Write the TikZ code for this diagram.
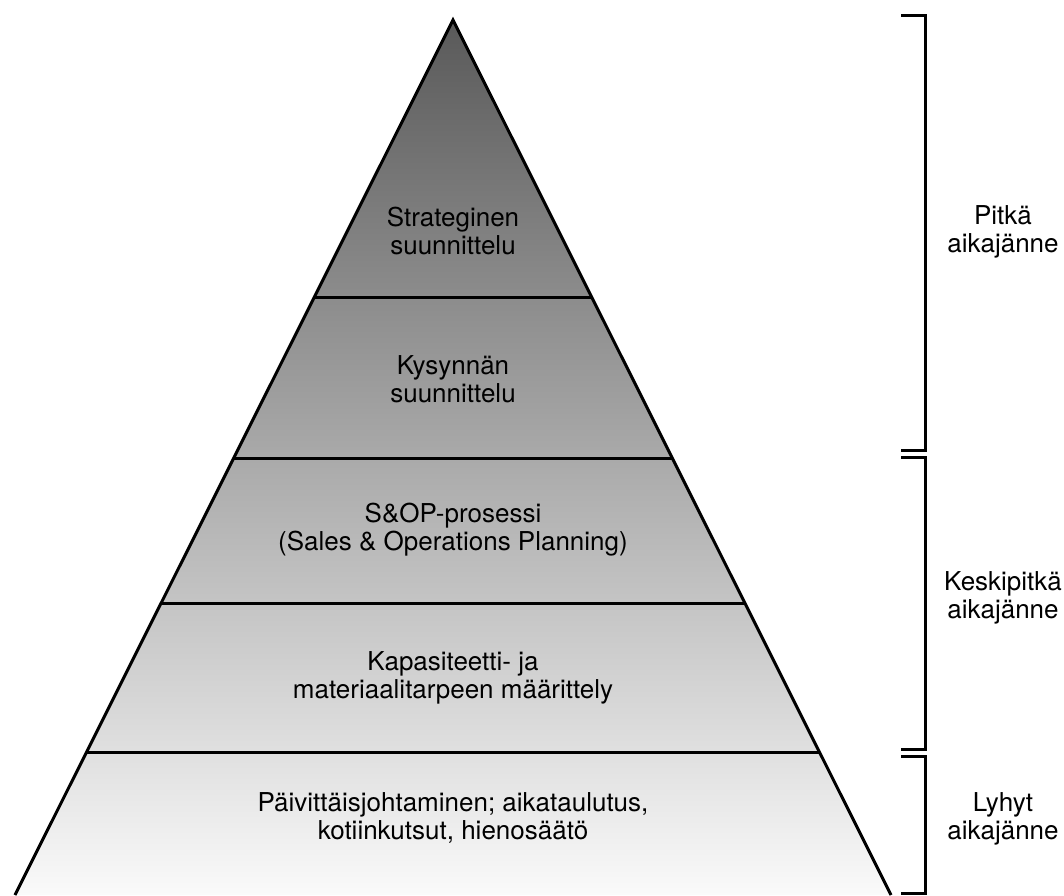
\documentclass[tikz,border=0pt]{standalone}
\usepackage{fontspec}
\setmainfont{TeX Gyre Heros}
\usetikzlibrary{calc}

\begin{document}
\begin{tikzpicture}[x=1pt, y=-1pt, line width=3pt,
    level/.style={align=center, font=\fontsize{26}{28}\selectfont},
    term/.style={align=center, font=\fontsize{26}{28}\selectfont}]
    \useasboundingbox (0,0) rectangle (1064,895);
    % pyramid
    \coordinate (top) at (453,20);
    \coordinate (bl) at (15,895);
    \coordinate (br) at (891,895);
    \shade[top color=black!65, bottom color=black!2] (top) -- (bl) -- (br) -- cycle;
    \foreach \t in {0.3177,0.5006,0.6663,0.8366}
        \draw ($(top)!\t!(bl)$) -- ($(top)!\t!(br)$);
    \draw[line join=miter] (bl) -- (top) -- (br);
    \node[level] (strat) at (453,231) {Strateginen\\suunnittelu};
    \node[level] (demand) at (453,379) {Kysynnän\\suunnittelu};
    \node[level] (sop) at (453,530) {S\&OP-prosessi\\(Sales \& Operations Planning)};
    \node[level] (capa) at (453,678) {Kapasiteetti- ja\\materiaalitarpeen määrittely};
    \node[level] (daily) at (453,818) {Päivittäisjohtaminen; aikataulutus,\\kotiinkutsut, hienosäätö};
    % time spans
    \draw (901,15) -| (925,450) -- (901,450);
    \draw (901,457) -| (925,749) -- (901,749);
    \draw (901,756) -| (925,893) -- (901,893);
    \node[term] (long) at (1003,232) {Pitkä\\aikajänne};
    \node[term] (mid) at (1003,598) {Keskipitkä\\aikajänne};
    \node[term] (short) at (1003,819) {Lyhyt\\aikajänne};
\end{tikzpicture}
\end{document}
